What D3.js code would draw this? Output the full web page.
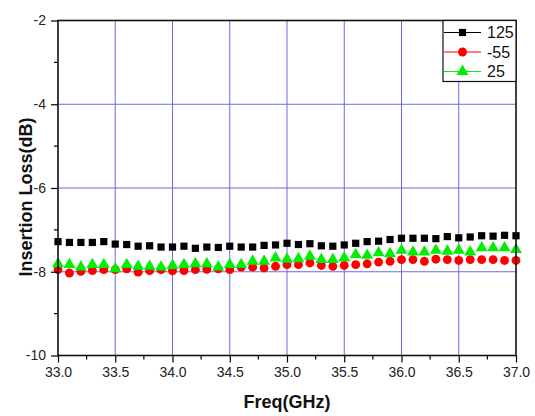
<!DOCTYPE html>
<html><head><meta charset="utf-8">
<script src="https://cdn.jsdelivr.net/npm/d3@7"></script>
<style>body{margin:0;background:#fff;}svg{display:block;font-family:"Liberation Sans",Arial,sans-serif;}</style>
</head><body>
<svg id="c" width="535" height="416"></svg>
<script>
const freq = d3.range(41).map(i => +(33 + i * 0.1).toFixed(1));
const s125 = [-7.28,-7.30,-7.30,-7.30,-7.28,-7.34,-7.35,-7.39,-7.38,-7.41,-7.41,-7.39,-7.44,-7.41,-7.42,-7.39,-7.41,-7.41,-7.37,-7.36,-7.32,
  -7.35,-7.33,-7.38,-7.39,-7.36,-7.32,-7.28,-7.27,-7.23,-7.20,-7.20,-7.20,-7.21,-7.16,-7.19,-7.17,-7.14,-7.15,-7.13,-7.14];
const sM55 = [-7.95,-8.03,-7.99,-7.97,-7.95,-7.95,-7.93,-8.01,-7.97,-7.95,-7.98,-7.97,-7.95,-7.94,-7.93,-7.95,-7.89,-7.89,-7.91,-7.87,-7.83,
  -7.83,-7.79,-7.85,-7.87,-7.85,-7.83,-7.81,-7.77,-7.75,-7.71,-7.71,-7.75,-7.70,-7.71,-7.73,-7.71,-7.71,-7.71,-7.73,-7.73];
const s25 = [-7.81,-7.83,-7.89,-7.83,-7.83,-7.93,-7.83,-7.87,-7.87,-7.89,-7.85,-7.83,-7.81,-7.81,-7.89,-7.83,-7.83,-7.75,-7.75,-7.67,-7.70,
  -7.69,-7.63,-7.71,-7.71,-7.67,-7.59,-7.61,-7.55,-7.57,-7.49,-7.53,-7.53,-7.49,-7.51,-7.49,-7.53,-7.43,-7.43,-7.43,-7.47];
const seriesNames = ["125", "-55", "25"];
const seriesColors = ["#000000", "#ff0000", "#00ee00"];
const seriesShapes = [d3.symbolSquare, d3.symbolCircle, d3.symbolTriangle];
const seriesSizes = [52, 62, 62];
const xTicks = [33.0,33.5,34.0,34.5,35.0,35.5,36.0,36.5,37.0];
const yTicks = [-10,-8,-6,-4,-2];

const svg = d3.select("#c");
const L = 58, R = 516, T = 20.5, B = 355.5;
const x = d3.scaleLinear().domain([33, 37]).range([L, R]);
const y = d3.scaleLinear().domain([-10, -2]).range([B, T]);

// grid
const grid = svg.append("g").attr("stroke", "#6a6ae6").attr("stroke-width", 1);
xTicks.slice(1, -1).forEach(v => grid.append("line").attr("x1", x(v)).attr("x2", x(v)).attr("y1", T).attr("y2", B));
yTicks.slice(1, -1).forEach(v => grid.append("line").attr("x1", L).attr("x2", R).attr("y1", y(v)).attr("y2", y(v)));

// data
const all = [s125, sM55, s25];
all.forEach((vals, k) => {
  const sym = d3.symbol().type(seriesShapes[k]).size(seriesSizes[k]);
  svg.append("g").selectAll("path").data(vals).join("path")
    .attr("transform", (d, i) => `translate(${x(freq[i])},${y(d)})`)
    .attr("d", sym).attr("fill", seriesColors[k]);
});

// axes
const xAxis = d3.axisBottom(x).tickValues(xTicks).tickFormat(d3.format(".1f")).tickSize(7).tickPadding(5);
const gx = svg.append("g").attr("transform", `translate(0,${B})`).call(xAxis);
const yAxis = d3.axisLeft(y).tickValues(yTicks).tickFormat(d => d).tickSize(7).tickPadding(5);
const gy = svg.append("g").attr("transform", `translate(${L},0)`).call(yAxis);
[gx, gy].forEach(g => {
  g.select(".domain").remove();
  g.selectAll("line").attr("stroke", "#000").attr("stroke-width", 1.2);
  g.selectAll("text").attr("font-size", 14).attr("fill", "#222").attr("font-family", "Liberation Sans, Arial, sans-serif");
});
// minor ticks
const minorX = d3.range(33.25, 37, 0.5);
svg.append("g").selectAll("line").data(minorX).join("line")
  .attr("x1", d => x(d)).attr("x2", d => x(d)).attr("y1", B).attr("y2", B + 4).attr("stroke", "#000").attr("stroke-width", 1.2);
const minorY = [-9, -7, -5, -3];
svg.append("g").selectAll("line").data(minorY).join("line")
  .attr("x1", L - 4).attr("x2", L).attr("y1", d => y(d)).attr("y2", d => y(d)).attr("stroke", "#000").attr("stroke-width", 1.2);

// frame
svg.append("rect").attr("x", L).attr("y", T).attr("width", R - L).attr("height", B - T)
  .attr("fill", "none").attr("stroke", "#111").attr("stroke-width", 1.6);

// axis titles
svg.append("text").attr("x", 287).attr("y", 408).attr("text-anchor", "middle")
  .attr("font-size", 18).attr("font-weight", "bold").attr("fill", "#111").text("Freq(GHz)");
svg.append("text").attr("transform", `translate(32,197) rotate(-90)`).attr("text-anchor", "middle")
  .attr("font-size", 18).attr("font-weight", "bold").attr("fill", "#111").text("Insertion Loss(dB)");

// legend
const lg = svg.append("g");
lg.append("rect").attr("x", 443).attr("y", 20.5).attr("width", 73).attr("height", 61)
  .attr("fill", "#fff").attr("stroke", "#111").attr("stroke-width", 1.2);
const rowsY = [32.5, 52, 71.5];
seriesNames.forEach((n, k) => {
  lg.append("line").attr("x1", 444).attr("x2", 481).attr("y1", rowsY[k]).attr("y2", rowsY[k])
    .attr("stroke", seriesColors[k]).attr("stroke-width", 1.2);
  lg.append("path").attr("transform", `translate(462.5,${rowsY[k]})`)
    .attr("d", d3.symbol().type(seriesShapes[k]).size(seriesSizes[k])).attr("fill", seriesColors[k]);
  lg.append("text").attr("x", 487).attr("y", rowsY[k] + 5.5).attr("font-size", 16).attr("fill", "#111").text(n);
});
</script>
</body></html>
